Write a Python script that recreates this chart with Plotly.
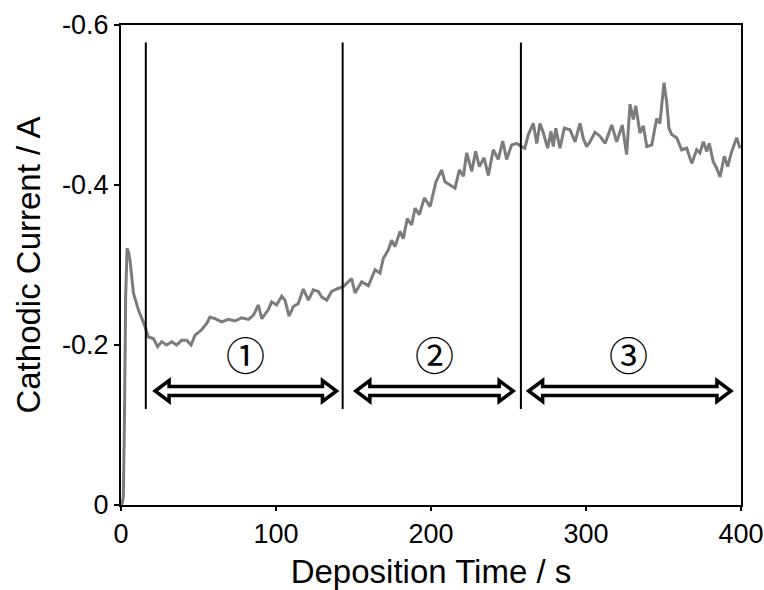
import plotly.graph_objects as go

# ---- data ----
time_s = [0.5, 1.5, 2.2, 3.0, 3.9, 5.0, 5.8, 8.0, 11.2, 15.5, 17.6, 20.9, 23.6, 26.2, 29.5, 32.7, 35.9,
          39.1, 42.4, 45.2, 47.7, 52.0, 55.3, 57.4, 60.6, 65.0, 69.2, 73.5, 77.8, 82.2, 85.4,
          88.6, 90.8, 95.0, 97.2, 100.4, 103.7, 105.8, 108.4, 111.2, 114.4, 117.6, 120.9,
          124.1, 127.3, 129.5, 132.7, 135.9, 139.2, 143.4, 148.8, 151.0, 155.3, 159.6, 163.9,
          167.1, 169.2, 172.5, 174.6, 176.8, 180.0, 182.1, 184.7, 187.5, 189.7, 192.5, 195.7,
          199.4, 203.2, 206.9, 209.0, 212.3, 215.5, 218.3, 220.9, 223.0, 226.3, 228.8, 231.2,
          234.2, 237.0, 240.2, 243.4, 246.3, 248.8, 252.0, 255.3, 258.5, 260.5, 262.8, 266.0,
          268.2, 270.3, 272.5, 275.3, 277.4, 278.9, 280.5, 283.2, 286.0, 289.7, 292.9, 296.1,
          298.3, 300.4, 302.6, 305.8, 309.0, 312.3, 316.6, 319.8, 323.4, 326.2, 328.4, 330.5,
          332.1, 334.8, 337.0, 339.2, 342.4, 345.6, 347.7, 350.3, 352.1, 353.5, 355.3, 358.5,
          361.7, 365.0, 368.2, 371.4, 373.5, 375.7, 377.9, 379.5, 382.1, 384.3, 386.5, 389.2,
          391.4, 394.0, 397.2, 399.4]
current_a = [0.0, -0.01, -0.10, -0.26, -0.321, -0.315, -0.306, -0.265, -0.244, -0.223, -0.21, -0.208,
             -0.198, -0.204, -0.200, -0.204, -0.200, -0.206, -0.206, -0.200, -0.212, -0.219,
             -0.227, -0.235, -0.233, -0.229, -0.232, -0.230, -0.234, -0.232, -0.237, -0.250,
             -0.233, -0.244, -0.254, -0.250, -0.261, -0.256, -0.236, -0.248, -0.252, -0.270,
             -0.256, -0.269, -0.267, -0.260, -0.256, -0.267, -0.270, -0.273, -0.283, -0.265,
             -0.279, -0.274, -0.294, -0.290, -0.308, -0.319, -0.331, -0.323, -0.342, -0.333,
             -0.358, -0.350, -0.371, -0.363, -0.384, -0.373, -0.404, -0.419, -0.404, -0.400,
             -0.396, -0.419, -0.411, -0.440, -0.417, -0.442, -0.423, -0.434, -0.412, -0.444,
             -0.432, -0.455, -0.432, -0.450, -0.452, -0.448, -0.446, -0.463, -0.477, -0.452,
             -0.477, -0.465, -0.446, -0.467, -0.448, -0.471, -0.446, -0.471, -0.469, -0.454,
             -0.477, -0.458, -0.448, -0.454, -0.466, -0.461, -0.452, -0.475, -0.454, -0.475,
             -0.438, -0.501, -0.482, -0.499, -0.465, -0.474, -0.448, -0.450, -0.483, -0.477,
             -0.528, -0.503, -0.471, -0.463, -0.459, -0.444, -0.446, -0.427, -0.444, -0.440,
             -0.454, -0.442, -0.452, -0.429, -0.421, -0.410, -0.436, -0.423, -0.442, -0.459,
             -0.446]

# stage boundaries (s) and stage labels
boundaries = [16, 143, 258]
stage_ranges = [(22, 139), (151.5, 253), (263, 393.5)]
stage_labels = ["①", "②", "③"]
stage_label_x = [80.4, 202, 327.7]

x_ticks = [0, 100, 200, 300, 400]
y_ticks = [0, -0.2, -0.4, -0.6]
y_tick_text = ["0", "-0.2", "-0.4", "-0.6"]

# ---- layout geometry ----
W, H = 764, 590
ML, MR, MT, MB = 121, 23, 25, 85
PW, PH = W - ML - MR, H - MT - MB
X_RANGE = [0, 400]
Y_RANGE = [0, -0.6]
sx = (X_RANGE[1] - X_RANGE[0]) / PW          # data units per pixel (x)
sy = (Y_RANGE[0] - Y_RANGE[1]) / PH          # data units per pixel (y, upward = more negative)

fig = go.Figure()
fig.add_trace(go.Scatter(x=time_s, y=current_a, mode="lines",
                         line=dict(color="#7c7c7c", width=3), showlegend=False,
                         hoverinfo="skip"))

shapes = []
for b in boundaries:
    shapes.append(dict(type="line", xref="x", yref="y", x0=b, x1=b, y0=-0.578, y1=-0.12,
                       line=dict(color="black", width=2)))

arrow_y = -0.1425
hs, hh, L = 4.6 * sy, 10.5 * sy, 14 * sx
for (a, b) in stage_ranges:
    # y up on screen == more negative value
    pts = [(a, arrow_y), (a + L, arrow_y - hh), (a + L, arrow_y - hs), (b - L, arrow_y - hs),
           (b - L, arrow_y - hh), (b, arrow_y), (b - L, arrow_y + hh), (b - L, arrow_y + hs),
           (a + L, arrow_y + hs), (a + L, arrow_y + hh)]
    path = "M " + " L ".join(f"{px:.4f},{py:.5f}" for px, py in pts) + " Z"
    shapes.append(dict(type="path", xref="x", yref="y", path=path,
                       line=dict(color="black", width=3.5), fillcolor="white"))

annotations = []
for lbl, lx in zip(stage_labels, stage_label_x):
    annotations.append(dict(x=lx, y=-0.19, xref="x", yref="y", text=lbl, showarrow=False,
                            font=dict(family="Noto Sans CJK JP", size=39, color="black"),
                            xanchor="center", yanchor="middle"))

fig.update_layout(
    width=W, height=H, margin=dict(l=ML, r=MR, t=MT, b=MB),
    paper_bgcolor="white", plot_bgcolor="white",
    shapes=shapes, annotations=annotations,
    font=dict(family="Liberation Sans, Arial, sans-serif", color="black"),
    xaxis=dict(range=X_RANGE, tickvals=x_ticks, ticks="outside", ticklen=4, tickwidth=2,
               tickcolor="black", showline=True, linecolor="black", linewidth=2, mirror=True,
               showgrid=False, zeroline=False, tickfont=dict(size=27), automargin=False,
               title=dict(text="Deposition Time / s", font=dict(size=33), standoff=16)),
    yaxis=dict(range=Y_RANGE, tickvals=y_ticks, ticktext=y_tick_text, ticks="outside",
               ticklen=5, tickwidth=2, tickcolor="black", showline=True, linecolor="black",
               linewidth=2, mirror=True, showgrid=False, zeroline=False, automargin=False,
               tickfont=dict(size=27),
               title=dict(text="Cathodic Current / A", font=dict(size=33), standoff=12)),
)

fig.write_html("out.html")
